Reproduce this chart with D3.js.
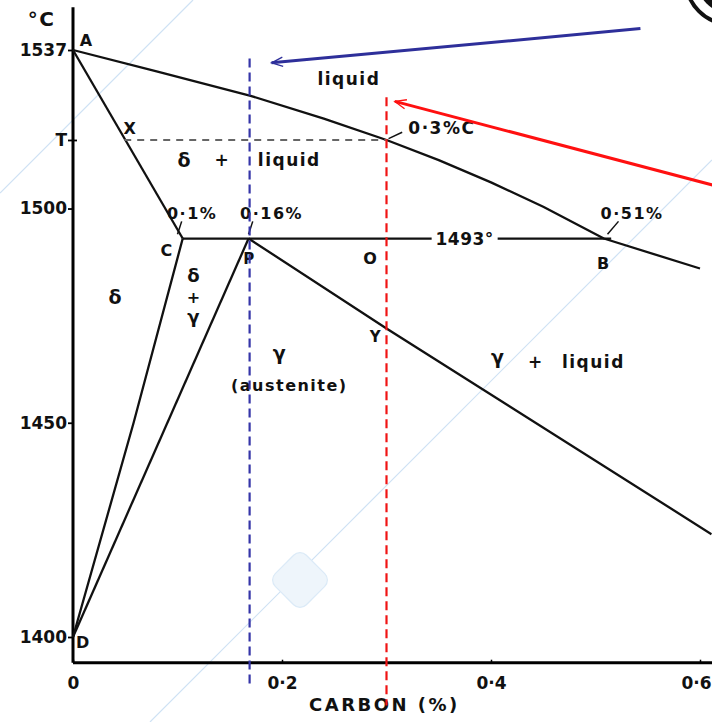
<html>
<head>
<script src="https://d3js.org/d3.v7.min.js"></script>
<style>
  body { margin: 0; background: #fff; }
  text { font-family: "DejaVu Sans", sans-serif; font-weight: bold; fill: #111; }
</style>
</head>
<body>
<svg id="chart" width="712" height="722"></svg>
<script>
// phase boundaries, [carbon %, temperature °C]
var liquidus      = [[0, 1537], [0.08, 1532], [0.17, 1526.3], [0.24, 1521], [0.3, 1516],
                     [0.35, 1511.3], [0.4, 1506.1], [0.45, 1500.4], [0.508, 1493], [0.6, 1486]];
var deltaSolidus  = [[0, 1537], [0.105, 1493]];
var peritectic    = [[0.105, 1493], [0.515, 1493]];
var deltaSolvus   = [[0, 1400], [0.058, 1450], [0.105, 1493]];
var gammaSolvus   = [[0, 1400], [0.168, 1493]];
var gammaSolidus  = [[0.168, 1493], [0.3, 1472], [0.611, 1424]];
var tLine         = [[0.049, 1516], [0.3, 1516]];

var xTicks = [0, 0.2, 0.4, 0.6];
var xTickLabels = ["0", "0·2", "0·4", "0·6"];
var yTicks = [1537, 1516, 1500, 1450, 1400];
var yTickLabels = ["1537", "T", "1500", "1450", "1400"];

// marked compositions (dashed verticals) and arrows pointing at them
var blueX = 0.169, redX = 0.3;
var blueArrow = [[0.543, 1542], [0.19, 1534]];
var redArrow  = [[0.612, 1505.5], [0.308, 1525]];

var svg = d3.select("#chart");
var x = d3.scaleLinear().domain([0, 0.6]).range([73, 700]);
var y = d3.scaleLinear().domain([1400, 1537]).range([637, 50]);
var line = d3.line().x(function(d) { return x(d[0]); }).y(function(d) { return y(d[1]); });

// faint watermark of the scanned page
var wm = svg.append("g").attr("stroke", "#cfe2f4").attr("stroke-width", 1.2).attr("fill", "none");
wm.append("line").attr("x1", 193).attr("y1", 0).attr("x2", 0).attr("y2", 193);
wm.append("line").attr("x1", 712).attr("y1", 160).attr("x2", 150).attr("y2", 722);
wm.append("rect").attr("x", -22).attr("y", -22).attr("width", 44).attr("height", 44).attr("rx", 9)
  .attr("transform", "translate(300,580) rotate(45)").attr("fill", "#eef5fb").attr("stroke", "#dbeaf7");
// edge of a dark object cut off at the top right of the scan
svg.append("circle").attr("cx", 730).attr("cy", -20).attr("r", 44).attr("fill", "none")
  .attr("stroke", "#111").attr("stroke-width", 4);
svg.append("circle").attr("cx", 732).attr("cy", -22).attr("r", 36).attr("fill", "#111");

var defs = svg.append("defs");
function arrowHead(id, color) {
  defs.append("marker").attr("id", id)
    .attr("viewBox", "-14 -6 16 12").attr("refX", -1).attr("refY", 0)
    .attr("markerWidth", 5).attr("markerHeight", 4).attr("orient", "auto")
    .attr("markerUnits", "strokeWidth")
    .append("path").attr("d", "M-13,-5L-1,0L-13,5")
    .attr("fill", "none").attr("stroke", color).attr("stroke-width", 1.4);
}
arrowHead("hb", "#2e2f9a");
arrowHead("hr", "#ff1010");

// axes
var g = svg.append("g");
g.append("line").attr("x1", x(0)).attr("x2", x(0)).attr("y1", y(1547)).attr("y2", y(1394))
  .attr("stroke", "#000").attr("stroke-width", 3);
g.append("line").attr("x1", x(0)).attr("x2", 712).attr("y1", y(1394)).attr("y2", y(1394))
  .attr("stroke", "#000").attr("stroke-width", 3);

var yAxis = d3.axisLeft(y).tickValues(yTicks).tickSize(5).tickPadding(1)
  .tickFormat(function(d, i) { return yTickLabels[i]; });
var ya = svg.append("g").attr("transform", "translate(" + x(0) + ",0)").call(yAxis);
ya.select(".domain").remove();
ya.selectAll(".tick line").attr("stroke", "#000").attr("stroke-width", 1.8);
ya.selectAll(".tick text").style("font-size", "17px").attr("fill", "#111")
  .attr("font-family", "DejaVu Sans").attr("font-weight", "bold");
ya.selectAll(".tick").filter(function(d) { return d === 1516; }).select("line").attr("x1", 4);

var xAxis = d3.axisBottom(x).tickValues(xTicks).tickSize(-3).tickPadding(14)
  .tickFormat(function(d, i) { return xTickLabels[i]; });
var xa = svg.append("g").attr("transform", "translate(0," + y(1394) + ")").call(xAxis);
xa.select(".domain").remove();
xa.selectAll(".tick line").attr("stroke", "#000").attr("stroke-width", 1.5);
xa.selectAll(".tick text").style("font-size", "17px").attr("fill", "#111")
  .attr("font-family", "DejaVu Sans").attr("font-weight", "bold");
xa.selectAll(".tick").filter(function(d) { return d === 0.6; }).select("text")
  .attr("text-anchor", "end").attr("x", 11);

// phase boundaries
var solid = [liquidus, deltaSolidus, peritectic, deltaSolvus, gammaSolvus, gammaSolidus];
svg.selectAll("path.bound").data(solid).enter().append("path").attr("class", "bound")
  .attr("d", line).attr("fill", "none").attr("stroke", "#111").attr("stroke-width", 2.3)
  .attr("stroke-linejoin", "round");
svg.append("path").attr("d", line(tLine)).attr("fill", "none")
  .attr("stroke", "#666").attr("stroke-width", 1.8).attr("stroke-dasharray", "7,6");

// labels
var labels = [
  {t: "°C", v: [-0.03, 1544], s: 20},
  {t: "A", v: [0.013, 1539], s: 16},
  {t: "X", v: [0.055, 1518.5], s: 16},
  {t: "liquid", v: [0.264, 1530], s: 17},
  {t: "0·3%C", v: [0.353, 1518.5], s: 17},
  {t: "δ", v: [0.107, 1511], s: 19},
  {t: "+", v: [0.143, 1511], s: 17},
  {t: "liquid", v: [0.207, 1511], s: 17},
  {t: "0·1%", v: [0.114, 1498.5], s: 16},
  {t: "0·16%", v: [0.19, 1498.5], s: 16},
  {t: "0·51%", v: [0.535, 1498.5], s: 16},
  {t: "C", v: [0.090, 1490], s: 16},
  {t: "O", v: [0.285, 1488], s: 16},
  {t: "B", v: [0.508, 1487], s: 16},
  {t: "P", v: [0.169, 1488], s: 15},
  {t: "δ", v: [0.041, 1479], s: 19},
  {t: "δ", v: [0.116, 1484], s: 18},
  {t: "+", v: [0.116, 1479], s: 16},
  {t: "γ", v: [0.116, 1474.5], s: 18},
  {t: "Y", v: [0.29, 1470], s: 15},
  {t: "γ", v: [0.198, 1466], s: 19},
  {t: "(austenite)", v: [0.207, 1458.5], s: 16},
  {t: "γ", v: [0.407, 1465], s: 19},
  {t: "+", v: [0.443, 1464], s: 17},
  {t: "liquid", v: [0.498, 1464], s: 17},
  {t: "D", v: [0.010, 1398.5], s: 16}
];
svg.selectAll("text.lbl").data(labels).enter().append("text").attr("class", "lbl")
  .attr("x", function(d) { return x(d.v[0]); }).attr("y", function(d) { return y(d.v[1]); })
  .attr("text-anchor", "middle").attr("dominant-baseline", "middle")
  .style("font-size", function(d) { return d.s + "px"; })
  .style("letter-spacing", "1.5px")
  .text(function(d) { return d.t; });

// 1493° label sits in a gap on the peritectic line
var lab1493 = svg.append("g").attr("transform", "translate(" + x(0.37) + "," + y(1493) + ")");
lab1493.append("rect").attr("x", -28).attr("y", -9).attr("width", 66).attr("height", 18).attr("fill", "#fff");
lab1493.append("text").attr("x", 5).attr("y", 1).attr("text-anchor", "middle")
  .attr("dominant-baseline", "middle").style("font-size", "17px").style("letter-spacing", "0.5px").text("1493°");

// small leader ticks
var leaders = [
  [[0.302, 1516.3], [0.315, 1517.8]],
  [[0.5115, 1494], [0.522, 1497]],
  [[0.1, 1494], [0.104, 1497]],
  [[0.168, 1494], [0.172, 1497]]
];
svg.selectAll("path.lead").data(leaders).enter().append("path").attr("class", "lead")
  .attr("d", line).attr("stroke", "#111").attr("stroke-width", 1.5).attr("fill", "none");

svg.append("text").attr("x", x(0.298)).attr("y", 711).attr("text-anchor", "middle")
  .style("font-size", "18px").style("letter-spacing", "2.5px").text("CARBON (%)");

// highlighted compositions
svg.append("line").attr("x1", x(blueX)).attr("x2", x(blueX)).attr("y1", y(1535)).attr("y2", y(1388))
  .attr("stroke", "#3535a8").attr("stroke-width", 2.2).attr("stroke-dasharray", "9,5");
svg.append("line").attr("x1", x(redX)).attr("x2", x(redX)).attr("y1", y(1526)).attr("y2", y(1384))
  .attr("stroke", "#f01414").attr("stroke-width", 2.2).attr("stroke-dasharray", "9,5");

svg.append("path").attr("d", line(blueArrow)).attr("stroke", "#2e2f9a").attr("stroke-width", 3)
  .attr("fill", "none").attr("marker-end", "url(#hb)");
svg.append("path").attr("d", line(redArrow)).attr("stroke", "#ff1010").attr("stroke-width", 3)
  .attr("fill", "none").attr("marker-end", "url(#hr)");
</script>
</body>
</html>
